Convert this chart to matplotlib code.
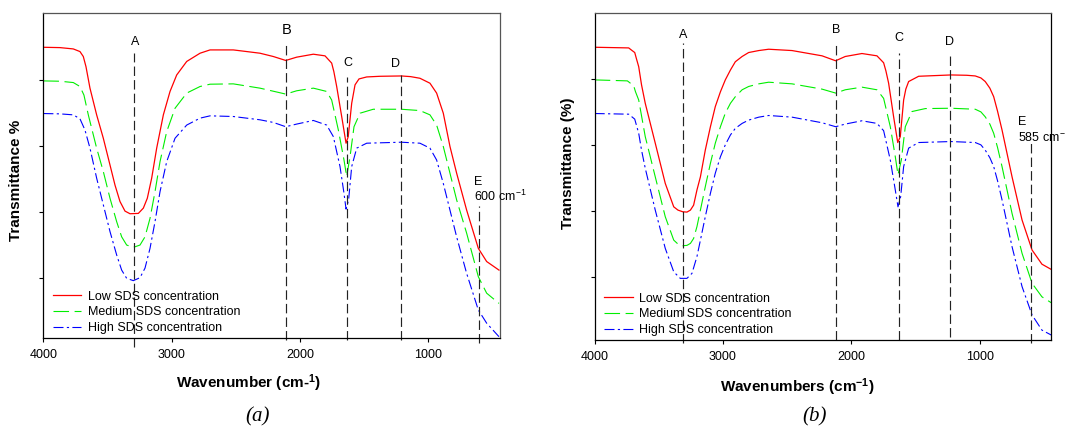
import matplotlib
matplotlib.use("Agg")
import matplotlib.pyplot as plt

plt.rcParams['font.family'] = ['Liberation Sans', 'DejaVu Sans']
plt.rcParams['mathtext.fontset'] = 'custom'
plt.rcParams['mathtext.rm'] = 'Liberation Sans'
plt.rcParams['mathtext.bf'] = 'Liberation Sans:bold'
plt.rcParams['mathtext.it'] = 'Liberation Sans:italic'

# ---- data: (a) panel ----
a_low_wn = [4000, 3871, 3767, 3715, 3689, 3668, 3637, 3585, 3533, 3481, 3442, 3403, 3364, 3325,
            3260, 3221, 3190, 3156, 3117, 3065, 3013, 2961, 2883, 2779, 2701, 2520, 2415, 2312,
            2208, 2111, 2026, 1896, 1805, 1753, 1736, 1714, 1675, 1641, 1624, 1597, 1571, 1540,
            1480, 1376, 1210, 1138, 1065, 987, 935, 883, 831, 779, 701, 610, 545, 449]
a_low_t = [89.9, 89.8, 89.4, 88.6, 87.1, 84.0, 77.5, 69.4, 62.3, 54.2, 48.1, 43.1, 40.2, 39.4,
           39.5, 41.1, 44.1, 50.2, 59.3, 69.4, 76.5, 81.5, 85.6, 88.1, 89.1, 89.1, 88.6, 88.1,
           87.1, 85.9, 86.9, 87.8, 87.3, 85.1, 82.5, 78.0, 68.9, 60.8, 62.8, 72.9, 78.5, 80.3,
           80.9, 81.1, 81.2, 81.0, 80.5, 79.0, 76.0, 69.9, 59.8, 51.7, 40.5, 28.9, 24.9, 22.3]

a_med_wn = [4000, 3871, 3767, 3715, 3684, 3650, 3585, 3533, 3481, 3429, 3390, 3351, 3299, 3247,
            3208, 3169, 3130, 3091, 3039, 2974, 2883, 2779, 2701, 2520, 2312, 2111, 2026, 1896,
            1792, 1753, 1701, 1657, 1636, 1610, 1579, 1532, 1429, 1210, 1065, 987, 935, 883,
            831, 779, 701, 610, 545, 449]
a_med_t = [79.7, 79.6, 79.2, 78.0, 75.4, 69.4, 59.3, 52.2, 44.1, 37.0, 32.4, 29.9, 29.2, 29.9,
           32.4, 38.0, 46.1, 55.2, 64.3, 71.4, 76.0, 78.0, 78.7, 78.8, 77.5, 75.7, 76.7, 77.5,
           76.5, 73.9, 64.8, 55.7, 50.7, 56.7, 65.8, 69.9, 71.1, 71.1, 70.7, 69.4, 66.3, 59.8,
           51.7, 43.6, 33.5, 20.3, 15.3, 12.2]

a_high_wn = [4000, 3871, 3767, 3715, 3676, 3637, 3585, 3533, 3481, 3429, 3390, 3351, 3299, 3247,
             3208, 3169, 3130, 3091, 3039, 2974, 2883, 2779, 2701, 2520, 2312, 2208, 2111, 2026,
             1896, 1792, 1740, 1688, 1657, 1641, 1621, 1597, 1558, 1480, 1210, 1065, 987, 935,
             883, 831, 779, 701, 610, 545, 449]
a_high_t = [69.8, 69.7, 69.4, 68.2, 64.8, 59.3, 50.2, 42.1, 34.0, 26.9, 22.3, 19.8, 19.1, 20.0,
            22.9, 28.9, 37.0, 46.1, 55.2, 62.3, 66.3, 68.4, 69.1, 68.9, 67.9, 67.1, 65.8, 66.6,
            67.7, 66.3, 62.8, 53.7, 45.6, 40.8, 43.6, 53.7, 59.3, 60.8, 61.1, 60.8, 59.3, 55.7,
            48.6, 40.5, 32.4, 21.3, 10.2, 6.2, 2.1]

a_marks = ["A", "B", "C", "D", "E"]
a_mark_wn = [3296, 2111, 1634, 1210, 605]
a_mark_top = [88.1, 91.6, 81.0, 81.5, 41.6]
a_mark_bottom = [-1.0, 1.1, 1.1, 1.1, 0.2]

# ---- data: (b) panel ----
b_low_wn = [4000, 3735, 3712, 3688, 3676, 3657, 3635, 3606, 3528, 3450, 3384, 3351, 3314, 3281,
            3254, 3229, 3203, 3176, 3138, 3098, 3060, 3020, 2982, 2942, 2904, 2851, 2800, 2721,
            2644, 2462, 2228, 2122, 2047, 1917, 1800, 1748, 1730, 1709, 1670, 1638, 1618, 1592,
            1575, 1553, 1475, 1223, 1100, 1034, 990, 956, 920, 890, 860, 825, 747, 669, 591,
            514, 441]
b_low_t = [89.7, 89.5, 88.8, 88.1, 86.4, 83.8, 78.3, 72.7, 60.6, 48.4, 41.3, 40.3, 39.8, 39.7,
           40.3, 41.8, 46.4, 50.4, 58.5, 65.6, 71.7, 76.2, 79.8, 82.8, 85.3, 86.9, 88.1, 88.7,
           89.1, 88.7, 87.1, 85.6, 86.9, 87.8, 87.1, 85.0, 82.5, 78.8, 68.6, 60.8, 62.6, 73.7,
           77.0, 79.3, 80.9, 81.3, 81.2, 81.0, 80.4, 79.3, 77.3, 74.7, 70.3, 64.6, 50.4, 37.3,
           28.2, 23.9, 22.3]

b_med_wn = [4000, 3745, 3696, 3682, 3657, 3606, 3528, 3450, 3384, 3351, 3314, 3281, 3254, 3229,
            3203, 3176, 3138, 3098, 3060, 3020, 2982, 2942, 2904, 2851, 2800, 2721, 2644, 2462,
            2228, 2122, 2047, 1917, 1800, 1748, 1696, 1657, 1636, 1610, 1579, 1527, 1423, 1223,
            1034, 990, 956, 920, 890, 860, 825, 747, 669, 591, 514, 441]
b_med_t = [79.8, 79.5, 78.0, 76.2, 73.7, 62.6, 50.4, 38.3, 31.2, 30.0, 29.5, 29.6, 30.2, 31.7,
           35.3, 40.3, 47.4, 54.5, 60.6, 65.6, 69.7, 72.7, 74.7, 76.8, 77.8, 78.6, 79.1, 78.6,
           77.0, 75.8, 76.8, 77.6, 76.8, 74.2, 65.6, 56.5, 51.0, 55.5, 65.6, 70.2, 71.1, 71.2,
           70.9, 70.1, 68.6, 66.4, 63.6, 59.3, 53.5, 39.3, 27.2, 18.1, 14.0, 12.2]

b_high_wn = [4000, 3735, 3688, 3657, 3635, 3606, 3528, 3450, 3384, 3359, 3333, 3281, 3242, 3203,
             3176, 3138, 3098, 3060, 3020, 2982, 2942, 2904, 2851, 2800, 2721, 2644, 2462, 2228,
             2122, 2047, 1917, 1800, 1748, 1696, 1657, 1636, 1615, 1592, 1553, 1475, 1223, 1034,
             990, 956, 920, 890, 860, 825, 747, 669, 591, 514, 441]
b_high_t = [69.6, 69.4, 67.9, 63.6, 58.5, 53.0, 40.3, 28.7, 21.6, 20.6, 19.6, 19.6, 21.1, 26.2,
            31.2, 38.3, 45.4, 51.5, 56.5, 60.1, 63.1, 65.1, 66.6, 67.6, 68.5, 69.0, 68.5, 66.8,
            65.6, 66.4, 67.4, 66.6, 64.4, 55.5, 46.4, 41.3, 44.4, 53.5, 59.1, 60.8, 61.1, 60.8,
            60.1, 58.5, 56.2, 53.5, 49.2, 43.4, 29.2, 17.1, 8.5, 3.9, 2.4]

b_marks = ["A", "B", "C", "D", "E"]
b_mark_wn = [3314, 2122, 1631, 1229, 596]
b_mark_top = [90.9, 91.4, 87.9, 86.9, 60.6]
b_mark_bottom = [0.0, 0.9, 0.9, 1.8, 0.0]

series_names = ["Low SDS concentration", "Medium SDS concentration", "High SDS concentration"]
x_ticks = [4000, 3000, 2000, 1000]
y_ticks = [20, 40, 60, 80]

W, H = 1065, 430
fig = plt.figure(figsize=(W / 100, H / 100), dpi=100)


def px_axes(l, r, t, b):
    return fig.add_axes([l / W, 1 - b / H, (r - l) / W, (b - t) / H])


def draw_panel(ax, curves, mark_wn, mark_top, mark_bottom, ylim):
    styles = [dict(color="#ff0000", ls="-", lw=0.9),
              dict(color="#00ee00", ls=(0, (14, 5)), lw=0.8),
              dict(color="#0000ff", ls=(0, (9, 3, 2, 3)), lw=0.8)]
    for (wn, t), name, st in zip(curves, series_names, styles):
        ax.plot(wn, t, label=name, solid_joinstyle="round", dash_joinstyle="round", **st)
    for x, top, bot in zip(mark_wn, mark_top, mark_bottom):
        ax.plot([x, x], [bot, top], color="#222222", lw=0.85, ls=(0, (8, 3.5)), clip_on=False)
    ax.set_xlim(4000, 441)
    ax.set_ylim(*ylim)
    ax.set_xticks(x_ticks)
    ax.set_yticks(y_ticks)
    ax.set_yticklabels([])
    ax.tick_params(direction="out", length=3, width=0.8, labelsize=9, pad=5)
    for s in ("left", "bottom"):
        ax.spines[s].set_color("black")
        ax.spines[s].set_linewidth(0.9)
    for s in ("top", "right"):
        ax.spines[s].set_color("#555555")
        ax.spines[s].set_linewidth(0.9)
    ax.legend(loc="lower left", frameon=False, fontsize=9, handlelength=2.3,
              handletextpad=0.55, labelspacing=0.3, borderpad=0, borderaxespad=0,
              bbox_to_anchor=(0.02, 0.012))


# panel (a)
ax1 = px_axes(43.4, 500, 13, 338)
draw_panel(ax1, [(a_low_wn, a_low_t), (a_med_wn, a_med_t), (a_high_wn, a_high_t)],
           a_mark_wn, a_mark_top, a_mark_bottom, (1.7, 100.3))
for lab, x, y, fs in zip(a_marks, [3286, 2104, 1624, 1252, 610],
                         [91.4, 95.0, 85.1, 84.8, 49.1], [9, 10.5, 9, 9, 9]):
    ax1.text(x, y, lab, ha="center", va="center", fontsize=fs, clip_on=False)
ax1.text(641, 44.6, "600 cm$^{-1}$", ha="left", va="center", fontsize=9, clip_on=False)
ax1.text(0.45, -0.138, r"Wavenumber (cm-$^{\mathbf{1}}$)", transform=ax1.transAxes,
         ha="center", va="center", fontsize=11, fontweight="bold")
ax1.text(-0.061, 0.484, "Transmittance %", transform=ax1.transAxes, rotation=90,
         ha="center", va="center", fontsize=11, fontweight="bold")

# panel (b)
ax2 = px_axes(594.7, 1051.3, 13.3, 340)
draw_panel(ax2, [(b_low_wn, b_low_t), (b_med_wn, b_med_t), (b_high_wn, b_high_t)],
           b_mark_wn, b_mark_top, b_mark_bottom, (0.9, 100))
ax2.spines["right"].set_color("black")
for lab, x, y in zip(b_marks, [3312, 2119, 1631, 1233, 667], [93.4, 94.9, 92.6, 91.4, 67.1]):
    ax2.text(x, y, lab, ha="center", va="center", fontsize=9, clip_on=False)
ax2.text(697, 62.5, "585 cm$^{-1}$", ha="left", va="center", fontsize=9, clip_on=False)
ax2.text(0.443, -0.143, r"Wavenumbers (cm$^{\mathbf{-1}}$)", transform=ax2.transAxes,
         ha="center", va="center", fontsize=11, fontweight="bold")
ax2.text(-0.058, 0.541, "Transmittance (%)", transform=ax2.transAxes, rotation=90,
         ha="center", va="center", fontsize=11, fontweight="bold")

# captions
fig.text(258 / W, 1 - 417 / H, "(a)", ha="center", va="center", fontsize=15,
         family="Liberation Serif", style="italic")
fig.text(815 / W, 1 - 417 / H, "(b)", ha="center", va="center", fontsize=15,
         family="Liberation Serif", style="italic")

fig.savefig("out.png", dpi=100)
